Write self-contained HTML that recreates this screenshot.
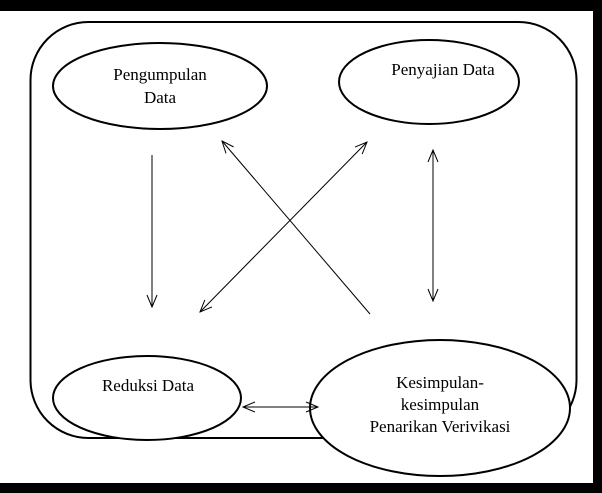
<!DOCTYPE html>
<html><head><style>
body{margin:0;width:602px;height:493px;background:#fff;overflow:hidden}
svg{display:block}
text{font-family:"Liberation Serif",serif;font-size:17px;fill:#000}
</style></head><body>
<svg width="602" height="493" viewBox="0 0 602 493">
<defs><marker id="a" markerWidth="14" markerHeight="12" refX="13" refY="6" orient="auto-start-reverse" markerUnits="userSpaceOnUse"><path d="M1,1 L13,6 L1,11" fill="none" stroke="#000" stroke-width="1"/></marker></defs>
<rect x="0" y="0" width="602" height="11" fill="#000"/>
<rect x="593" y="0" width="9" height="493" fill="#000"/>
<rect x="0" y="483" width="602" height="10" fill="#000"/>
<rect x="30.5" y="22" width="546" height="416" rx="58" fill="none" stroke="#000" stroke-width="2"/>
<ellipse cx="160" cy="86" rx="107" ry="43" fill="#fff" stroke="#000" stroke-width="2"/>
<ellipse cx="429" cy="82" rx="90" ry="42" fill="#fff" stroke="#000" stroke-width="2"/>
<ellipse cx="147" cy="398" rx="94" ry="42" fill="#fff" stroke="#000" stroke-width="2"/>
<ellipse cx="440" cy="408" rx="130" ry="68" fill="#fff" stroke="#000" stroke-width="2"/>
<text x="160" y="80" text-anchor="middle">Pengumpulan</text>
<text x="160" y="103" text-anchor="middle">Data</text>
<text x="443" y="75" text-anchor="middle">Penyajian Data</text>
<text x="148" y="391" text-anchor="middle">Reduksi Data</text>
<text x="440" y="388" text-anchor="middle">Kesimpulan-</text>
<text x="440" y="410" text-anchor="middle">kesimpulan</text>
<text x="440" y="432" text-anchor="middle">Penarikan Verivikasi</text>
<g stroke="#000" stroke-width="1" fill="none">
<line x1="152" y1="155" x2="152" y2="307" marker-end="url(#a)"/>
<line x1="370" y1="314" x2="222" y2="141" marker-end="url(#a)"/>
<line x1="367" y1="142" x2="200" y2="312" marker-start="url(#a)" marker-end="url(#a)"/>
<line x1="433" y1="150" x2="433" y2="301" marker-start="url(#a)" marker-end="url(#a)"/>
<line x1="243" y1="407" x2="318" y2="407" marker-start="url(#a)" marker-end="url(#a)"/>
</g>
</svg>
</body></html>
